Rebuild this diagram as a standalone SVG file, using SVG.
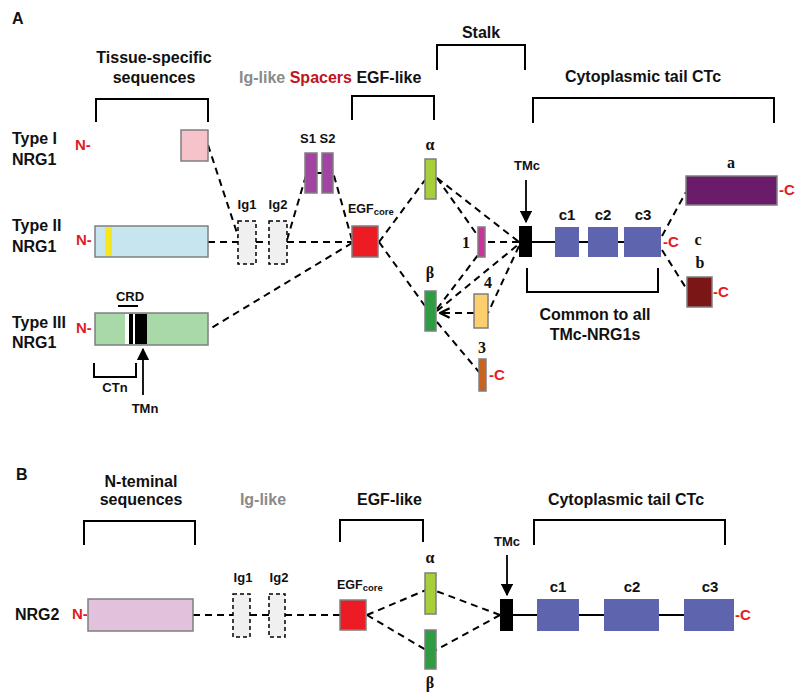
<svg xmlns="http://www.w3.org/2000/svg" width="800" height="697" viewBox="0 0 800 697">
<defs>
<style>
.t{font-family:"Liberation Sans",Arial,sans-serif;font-weight:bold;fill:#111}
.h{font-size:16px}
.m{font-size:15px}
.s{font-size:13px}
.gr{font-family:"Liberation Serif","Times New Roman",serif;font-weight:bold;font-size:16px;fill:#111}
.red{fill:#e31b23}
.dred{fill:#c0141f}
.gray{fill:#8a8a8a}
.dash{fill:none;stroke:#000;stroke-width:2;stroke-dasharray:7 5}
.br{fill:none;stroke:#000;stroke-width:2}
.box{stroke:#7f7f7f;stroke-width:1.5}
.ig{fill:#f0f0f0;stroke:#000;stroke-width:1.5;stroke-dasharray:4 3}
.arr{stroke:#000;stroke-width:1.8;fill:none}
</style>
<marker id="ah" viewBox="0 0 10 10" refX="9" refY="5" markerWidth="7" markerHeight="7" orient="auto">
<path d="M0,0 L10,5 L0,10 z" fill="#000"/>
</marker>
<marker id="ch" viewBox="0 0 10 10" refX="9" refY="5" markerWidth="6" markerHeight="6" orient="auto">
<path d="M1,1 L9,5 L1,9" fill="none" stroke="#000" stroke-width="2"/>
</marker>
</defs>
<rect width="800" height="697" fill="#fff"/>

<!-- Panel labels and headings -->
<g id="headings">
<text class="t h" x="12" y="24">A</text>
<text class="t h" x="16" y="480">B</text>
<text class="t h" x="154" y="63" text-anchor="middle">Tissue-specific</text>
<text class="t h" x="154" y="83" text-anchor="middle">sequences</text>
<text class="t h" x="239" y="83"><tspan class="gray">Ig-like</tspan> <tspan class="dred">Spacers</tspan> <tspan>EGF-like</tspan></text>
<text class="t h" x="481" y="38" text-anchor="middle">Stalk</text>
<text class="t h" x="643" y="82" text-anchor="middle">Cytoplasmic tail CTc</text>
<text class="t h" x="141" y="487" text-anchor="middle">N-teminal</text>
<text class="t h" x="141" y="505" text-anchor="middle">sequences</text>
<text class="t h gray" x="263" y="505" text-anchor="middle">Ig-like</text>
<text class="t h" x="357" y="505">EGF-like</text>
<text class="t h" x="626" y="505" text-anchor="middle">Cytoplasmic tail CTc</text>
</g>

<g id="brackets">
<path class="br" d="M96,122 V99 H208 V122"/>
<path class="br" d="M352,120 V96 H434 V120"/>
<path class="br" d="M437,70 V45 H525 V70"/>
<path class="br" d="M533,123 V98 H774 V123"/>
<path class="br" d="M527,268 V292 H658 V268"/>
<path class="br" d="M94,363 V377 H136 V363"/>
<path class="br" d="M118,306 H138"/>
<path class="br" d="M84,545 V521 H195 V545"/>
<path class="br" d="M340,542 V520 H423 V542"/>
<path class="br" d="M534,545 V520 H725 V545"/>
</g>

<!-- Connectors -->
<g id="connectors">
<path class="dash" d="M208,145 L240,242"/>
<path class="dash" d="M208,242 H238"/>
<path class="dash" d="M256,242 H269"/>
<path class="dash" d="M287,242 H352"/>
<path class="dash" d="M287,240 L307,172"/>
<path class="dash" d="M352,240 L333,172"/>
<path class="dash" d="M352,243 L208,330"/>
<path class="dash" d="M379,242 L425,180"/>
<path class="dash" d="M379,242 L425,306"/>
<path class="dash" d="M437,178 L478,236"/>
<path class="dash" d="M437,178 L519,242"/>
<path class="dash" d="M519,242 H485"/>
<path class="dash" d="M437,309 L478,255"/>
<path class="dash" d="M437,311 L519,244"/>
<path class="dash" d="M519,246 L488,313"/>
<path class="dash" d="M474,313 H440" marker-end="url(#ch)"/>
<path class="dash" d="M437,322 L479,372"/>
<path class="dash" d="M662,236 L686,192"/>
<path class="dash" d="M662,250 L686,288"/>
<path stroke="#000" stroke-width="2" d="M317,173 H322"/>
<path stroke="#000" stroke-width="2" d="M532,242 H555 M579,242 H588 M618,242 H624"/>
<path class="arr" d="M526,180 V222" marker-end="url(#ah)"/>
<path class="arr" d="M143,395 V349" marker-end="url(#ah)"/>
<!-- panel B -->
<path class="dash" d="M193,615 H233"/>
<path class="dash" d="M250,615 H269"/>
<path class="dash" d="M285,615 H340"/>
<path class="dash" d="M367,615 L426,590"/>
<path class="dash" d="M367,615 L426,650"/>
<path class="dash" d="M500,615 L436,591"/>
<path class="dash" d="M500,615 L436,650"/>
<path stroke="#000" stroke-width="2" d="M513,615 H537 M579,615 H604 M659,615 H684"/>
<path class="arr" d="M507,555 V595" marker-end="url(#ah)"/>
</g>

<!-- Panel A row labels -->
<g id="typeI">
<text class="t h" x="12" y="144">Type I</text>
<text class="t h" x="12" y="165">NRG1</text>
<text class="t m red" x="75" y="150">N-</text>
<rect class="box" x="181" y="130" width="27" height="31" fill="#f5c3c9"/>
</g>
<g id="typeII">
<text class="t h" x="12" y="231">Type II</text>
<text class="t h" x="12" y="252">NRG1</text>
<text class="t m red" x="76" y="245">N-</text>
<rect class="box" x="95" y="226" width="113" height="31" fill="#c6e5ef"/>
<rect x="105" y="227" width="7" height="29" fill="#f6e61c"/>
</g>
<g id="typeIII">
<text class="t h" x="12" y="328">Type III</text>
<text class="t h" x="12" y="348">NRG1</text>
<text class="t m red" x="76" y="333">N-</text>
<rect class="box" x="95" y="313" width="113" height="32" fill="#a9d9a9"/>
<rect x="125" y="314" width="10" height="30" fill="#fff"/>
<rect x="129" y="314" width="4" height="30" fill="#000"/>
<rect x="135" y="314" width="12" height="30" fill="#000"/>
<text class="t s" x="130" y="301" text-anchor="middle">CRD</text>
<text class="t s" x="115" y="392" text-anchor="middle">CTn</text>
<text class="t s" x="145" y="413" text-anchor="middle">TMn</text>
</g>

<g id="ig-A">
<text class="t s" x="247" y="209" text-anchor="middle">Ig1</text>
<text class="t s" x="278" y="209" text-anchor="middle">Ig2</text>
<rect class="ig" x="238" y="221" width="18" height="43"/>
<rect class="ig" x="269" y="221" width="18" height="43"/>
</g>
<g id="spacers">
<text class="t s" x="300" y="143" font-size="13.5">S1 S2</text>
<rect class="box" x="305" y="153" width="12" height="40" fill="#a245a2"/>
<rect class="box" x="322" y="153" width="11" height="40" fill="#a245a2"/>
</g>
<g id="egf-A">
<text class="t" x="348" y="213" font-size="12.5">EGF<tspan font-size="9.5" dy="2">core</tspan></text>
<rect class="box" x="352" y="226" width="26" height="31" fill="#ed1c24"/>
</g>
<g id="alpha-A">
<text class="gr" x="430" y="150" text-anchor="middle">α</text>
<rect class="box" x="425" y="159" width="11" height="40" fill="#a7cf3a"/>
</g>
<g id="beta-A">
<text class="gr" x="430" y="278" text-anchor="middle">β</text>
<rect class="box" x="425" y="291" width="11" height="40" fill="#2f9b42"/>
</g>
<g id="iso1">
<text class="gr" x="466" y="248" text-anchor="middle">1</text>
<rect class="box" x="478" y="227" width="7" height="30" fill="#c9339b"/>
</g>
<g id="iso4">
<text class="gr" x="488" y="288" text-anchor="middle">4</text>
<rect class="box" x="474" y="294" width="14" height="34" fill="#fdd06d"/>
</g>
<g id="iso3">
<text class="gr" x="482" y="353" text-anchor="middle">3</text>
<rect class="box" x="479" y="359" width="7" height="32" fill="#c8641f"/>
<text class="t m red" x="489" y="380">-C</text>
</g>
<g id="tmc-A">
<text class="t s" x="527" y="170" text-anchor="middle">TMc</text>
<rect x="519" y="226" width="13" height="31" fill="#000"/>
</g>
<g id="ctc-A">
<text class="t m" x="567" y="220" text-anchor="middle">c1</text>
<text class="t m" x="603" y="220" text-anchor="middle">c2</text>
<text class="t m" x="643" y="220" text-anchor="middle">c3</text>
<rect x="555" y="227" width="24" height="30" fill="#5f64ae"/>
<rect x="588" y="227" width="30" height="30" fill="#5f64ae"/>
<rect x="624" y="227" width="37" height="30" fill="#5f64ae"/>
<text class="t m red" x="663" y="247">-C</text>
<text class="gr" x="698" y="245" text-anchor="middle">c</text>
<text class="t h" x="595" y="320" text-anchor="middle">Common to all</text>
<text class="t h" x="595" y="340" text-anchor="middle">TMc-NRG1s</text>
</g>
<g id="tail-a">
<text class="gr" x="731" y="168" text-anchor="middle">a</text>
<rect class="box" x="686" y="176" width="91" height="29" fill="#6a1c6b"/>
<text class="t m red" x="779" y="195">-C</text>
</g>
<g id="tail-b">
<text class="gr" x="700" y="268" text-anchor="middle">b</text>
<rect class="box" x="687" y="277" width="25" height="30" fill="#7a1616"/>
<text class="t m red" x="713" y="297">-C</text>
</g>

<!-- Panel B nodes -->
<g id="nrg2">
<text class="t h" x="15" y="620">NRG2</text>
<text class="t m red" x="72" y="619">N-</text>
<rect class="box" x="88" y="599" width="105" height="32" fill="#e2c1dd"/>
</g>
<g id="ig-B">
<text class="t s" x="243" y="582" text-anchor="middle">Ig1</text>
<text class="t s" x="279" y="582" text-anchor="middle">Ig2</text>
<rect class="ig" x="233" y="594" width="17" height="43"/>
<rect class="ig" x="269" y="594" width="16" height="43"/>
</g>
<g id="egf-B">
<text class="t" x="337" y="589" font-size="12.5">EGF<tspan font-size="9.5" dy="2">core</tspan></text>
<rect class="box" x="340" y="600" width="26" height="30" fill="#ed1c24"/>
</g>
<g id="alpha-B">
<text class="gr" x="430" y="563" text-anchor="middle">α</text>
<rect class="box" x="425" y="573" width="11" height="41" fill="#a7cf3a"/>
</g>
<g id="beta-B">
<text class="gr" x="430" y="688" text-anchor="middle">β</text>
<rect class="box" x="425" y="630" width="11" height="39" fill="#2f9b42"/>
</g>
<g id="tmc-B">
<text class="t s" x="507" y="546" text-anchor="middle">TMc</text>
<rect x="500" y="599" width="13" height="32" fill="#000"/>
</g>
<g id="ctc-B">
<text class="t m" x="558" y="592" text-anchor="middle">c1</text>
<text class="t m" x="632" y="592" text-anchor="middle">c2</text>
<text class="t m" x="710" y="592" text-anchor="middle">c3</text>
<rect x="537" y="599" width="42" height="32" fill="#5f64ae"/>
<rect x="604" y="599" width="55" height="32" fill="#5f64ae"/>
<rect x="684" y="599" width="50" height="32" fill="#5f64ae"/>
<text class="t m red" x="735" y="620">-C</text>
</g>
</svg>
